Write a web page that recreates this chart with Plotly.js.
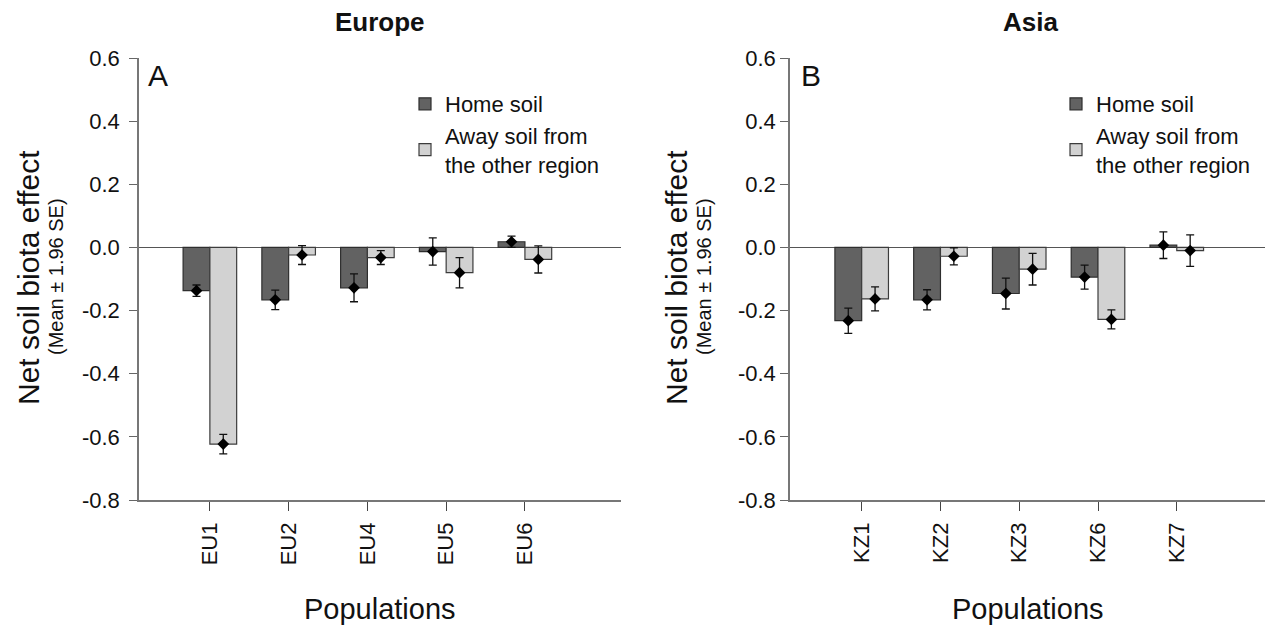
<!DOCTYPE html>
<html>
<head>
<meta charset="utf-8">
<script src="https://cdn.plot.ly/plotly-3.0.1.min.js"></script>
<style>html,body{margin:0;padding:0;background:#fff;}#chart{width:1265px;height:628px;}</style>
</head>
<body>
<div id="chart"></div>
<script>
// ---- data ----
const popsEU = ['EU1', 'EU2', 'EU4', 'EU5', 'EU6'];
const euHome = [-0.137, -0.166, -0.128, -0.013, 0.018];
const euHomeErr = [0.018, 0.031, 0.044, 0.043, 0.018];
const euAway = [-0.623, -0.024, -0.032, -0.080, -0.038];
const euAwayErr = [0.031, 0.030, 0.022, 0.048, 0.043];

const popsKZ = ['KZ1', 'KZ2', 'KZ3', 'KZ6', 'KZ7'];
const kzHome = [-0.232, -0.166, -0.146, -0.094, 0.007];
const kzHomeErr = [0.040, 0.032, 0.049, 0.038, 0.042];
const kzAway = [-0.163, -0.028, -0.069, -0.228, -0.010];
const kzAwayErr = [0.038, 0.027, 0.050, 0.030, 0.050];

const yTicks = [-0.8, -0.6, -0.4, -0.2, 0.0, 0.2, 0.4, 0.6];
const yTickLabels = ['-0.8', '-0.6', '-0.4', '-0.2', '0.0', '0.2', '0.4', '0.6'];
const seriesNames = ['Home soil', 'Away soil from<br>the other region'];

// ---- styling ----
const W = 1265, H = 628;
const px = v => v / W;
const py = v => 1 - v / H;
const FONT = 'Liberation Sans, Arial, sans-serif';
const homeFill = '#626262', homeLine = '#2e2e2e';
const awayFill = '#d2d2d2', awayLine = '#3c3c3c';
const barW = 0.34;

function panel(pops, home, homeErr, away, awayErr, xa, ya, leg, showLeg) {
  const idx = pops.map((_, i) => i);
  const errStyle = arr => ({type: 'data', array: arr, visible: true, color: '#111', thickness: 1.3, width: 4});
  return [
    {type: 'bar', name: seriesNames[0], x: idx, y: home, width: barW, offset: -barW,
     marker: {color: homeFill, line: {color: homeLine, width: 1.2}}, xaxis: xa, yaxis: ya,
     legend: leg, showlegend: showLeg, hoverinfo: 'y'},
    {type: 'bar', name: seriesNames[1], x: idx, y: away, width: barW, offset: 0,
     marker: {color: awayFill, line: {color: awayLine, width: 1.2}}, xaxis: xa, yaxis: ya,
     legend: leg, showlegend: showLeg, hoverinfo: 'y'},
    {type: 'scatter', mode: 'markers', x: idx.map(i => i - barW / 2), y: home,
     error_y: errStyle(homeErr), marker: {symbol: 'diamond', size: 9, color: '#000'},
     xaxis: xa, yaxis: ya, showlegend: false, hoverinfo: 'y'},
    {type: 'scatter', mode: 'markers', x: idx.map(i => i + barW / 2), y: away,
     error_y: errStyle(awayErr), marker: {symbol: 'diamond', size: 9, color: '#000'},
     xaxis: xa, yaxis: ya, showlegend: false, hoverinfo: 'y'}
  ];
}

const data = [].concat(
  panel(popsEU, euHome, euHomeErr, euAway, euAwayErr, 'x', 'y', 'legend', true),
  panel(popsKZ, kzHome, kzHomeErr, kzAway, kzAwayErr, 'x2', 'y2', 'legend2', true)
);

function xaxis(pops, domain, range) {
  return {
    domain: domain, range: range, tickvals: pops.map((_, i) => i), ticktext: pops,
    tickangle: -90, ticks: 'outside', ticklen: 9, tickcolor: '#444', tickwidth: 1.2,
    showline: true, linecolor: '#777', linewidth: 1.5, showgrid: false, zeroline: false,
    tickfont: {family: FONT, size: 22, color: '#111'}, ticklabelstandoff: 3, fixedrange: true
  };
}
function yaxis(anchor, standoff) {
  return {
    anchor: anchor, domain: [py(500), py(58)], range: [-0.8, 0.6],
    tickvals: yTicks, ticktext: yTickLabels, ticks: 'outside', ticklen: 8, tickcolor: '#666', tickwidth: 1.2,
    showline: true, linecolor: '#777', linewidth: 1.5, showgrid: false,
    zeroline: true, zerolinecolor: '#555', zerolinewidth: 1.3,
    tickfont: {family: FONT, size: 22, color: '#111'}, ticklabelstandoff: standoff, fixedrange: true
  };
}

const legendBase = {
  font: {family: FONT, size: 22, color: '#111'}, bgcolor: 'rgba(0,0,0,0)',
  xanchor: 'left', yanchor: 'top', traceorder: 'normal', itemclick: false, itemdoubleclick: false
};

const ann = (text, x, y, size, opts) => Object.assign({
  text: text, x: px(x), y: py(y), xref: 'paper', yref: 'paper', showarrow: false,
  xanchor: 'center', yanchor: 'middle', font: {family: FONT, size: size, color: '#111'}
}, opts || {});

const layout = {
  width: W, height: H, margin: {l: 0, r: 0, t: 0, b: 0},
  paper_bgcolor: '#fff', plot_bgcolor: '#fff', barmode: 'overlay', showlegend: true,
  xaxis: Object.assign(xaxis(popsEU, [px(139), px(621)], [-0.9, 5.22]), {anchor: 'y'}),
  yaxis: yaxis('x', 5),
  xaxis2: Object.assign(xaxis(popsKZ, [px(790), 1], [-0.91, 5.12]), {anchor: 'y2'}),
  yaxis2: yaxis('x2', 0),
  legend: Object.assign({x: px(405), y: py(83)}, legendBase),
  legend2: Object.assign({x: px(1056), y: py(83)}, legendBase),
  annotations: [
    ann('<b>Europe</b>', 380, 22, 26),
    ann('<b>Asia</b>', 1030, 22, 26),
    ann('A', 158, 76, 30),
    ann('B', 811, 76, 30),
    ann('Populations', 380, 609, 29),
    ann('Populations', 1028, 609, 29),
    ann('Net soil biota effect', 28, 278, 30, {textangle: -90}),
    ann('(Mean ± 1.96 SE)', 56, 277, 20, {textangle: -90}),
    ann('Net soil biota effect', 676, 278, 30, {textangle: -90}),
    ann('(Mean ± 1.96 SE)', 704, 277, 20, {textangle: -90})
  ]
};

Plotly.newPlot('chart', data, layout, {displayModeBar: false, staticPlot: false});
</script>
</body>
</html>
